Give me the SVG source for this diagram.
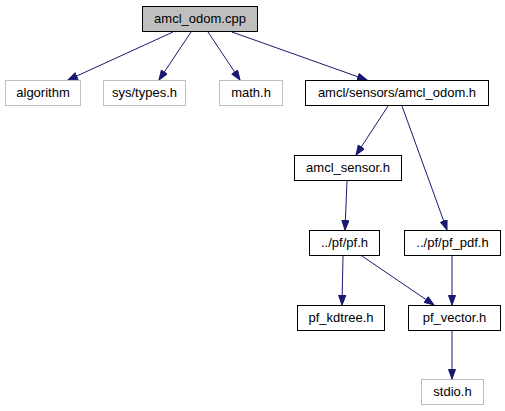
<svg xmlns="http://www.w3.org/2000/svg" width="505" height="411" viewBox="0 0 505 411">
<style>
rect{stroke-width:1}
.int{fill:#fff;stroke:#000}
.ext{fill:#fff;stroke:#bfbfbf}
.top{fill:#bfbfbf;stroke:#000}
text{font-family:"Liberation Sans",Arial,sans-serif;font-size:13px;text-anchor:middle;fill:#000}
.e{stroke:#191970;stroke-width:1;fill:none;marker-end:url(#ah)}
</style>
<defs>
<marker id="ah" markerUnits="userSpaceOnUse" markerWidth="12" markerHeight="10" refX="10" refY="4" orient="auto">
<path d="M0.5,0.5 L10,4 L0.5,7.5 z" fill="#191970" stroke="#191970"/>
</marker>
</defs>
<g id="connectors">
<path class="e" d="M173,32 L68,80"/>
<path class="e" d="M191,32 L159,80"/>
<path class="e" d="M208,32 L240,80"/>
<path class="e" d="M232,32 L367,80"/>
<path class="e" d="M388,106 L356,155"/>
<path class="e" d="M402,106 L447,230"/>
<path class="e" d="M347,181 L345,230"/>
<path class="e" d="M343,256 L342,305"/>
<path class="e" d="M362,256 L434,305"/>
<path class="e" d="M452,256 L452,305"/>
<path class="e" d="M452,331 L452,379"/>
</g>
<g id="n_amcl_odom_cpp"><rect class="top" x="142.5" y="6.5" width="115" height="25"/><text x="200" y="23">amcl_odom.cpp</text></g>
<g id="n_algorithm"><rect class="ext" x="5.5" y="80.5" width="75" height="25"/><text x="43" y="97">algorithm</text></g>
<g id="n_sys_types"><rect class="ext" x="103.5" y="80.5" width="82" height="25"/><text x="144.5" y="97">sys/types.h</text></g>
<g id="n_math"><rect class="ext" x="219.5" y="80.5" width="63" height="25"/><text x="251" y="97">math.h</text></g>
<g id="n_amcl_odom_h"><rect class="int" x="305.5" y="80.5" width="183" height="25"/><text x="397" y="97">amcl/sensors/amcl_odom.h</text></g>
<g id="n_amcl_sensor"><rect class="int" x="294.5" y="155.5" width="107" height="25"/><text x="348" y="172">amcl_sensor.h</text></g>
<g id="n_pf"><rect class="int" x="309.5" y="230.5" width="70" height="25"/><text x="344.5" y="247">../pf/pf.h</text></g>
<g id="n_pf_pdf"><rect class="int" x="404.5" y="230.5" width="96" height="25"/><text x="452.5" y="247">../pf/pf_pdf.h</text></g>
<g id="n_pf_kdtree"><rect class="int" x="297.5" y="305.5" width="87" height="25"/><text x="341" y="322">pf_kdtree.h</text></g>
<g id="n_pf_vector"><rect class="int" x="408.5" y="305.5" width="92" height="25"/><text x="454.5" y="322">pf_vector.h</text></g>
<g id="n_stdio"><rect class="ext" x="421.5" y="379.5" width="62" height="25"/><text x="452.5" y="396">stdio.h</text></g>
</svg>
